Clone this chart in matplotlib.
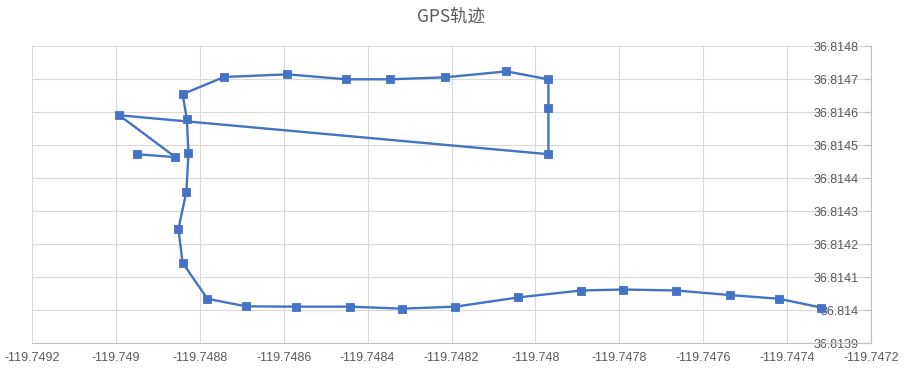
import matplotlib
matplotlib.use('Agg')
import matplotlib.pyplot as plt

# GPS track points, in drawing order
lon = [-119.748950, -119.748858, -119.748992, -119.747969, -119.747969,
       -119.747969, -119.748069, -119.748215, -119.748346, -119.748451,
       -119.748591, -119.748742, -119.748841, -119.748831, -119.748827,
       -119.748832, -119.748851, -119.748841, -119.748782, -119.748690,
       -119.748570, -119.748441, -119.748319, -119.748191, -119.748041,
       -119.747892, -119.747790, -119.747664, -119.747535, -119.747419,
       -119.747318]
lat = [36.814473, 36.814464, 36.814591, 36.814473, 36.814612,
       36.814700, 36.814724, 36.814706, 36.814700, 36.814700,
       36.814715, 36.814707, 36.814655, 36.814581, 36.814476,
       36.814359, 36.814247, 36.814144, 36.814035, 36.814012,
       36.814011, 36.814011, 36.814005, 36.814011, 36.814039,
       36.814060, 36.814063, 36.814060, 36.814046, 36.814035,
       36.814008]

xticks = [-119.7492, -119.7490, -119.7488, -119.7486, -119.7484, -119.7482,
          -119.7480, -119.7478, -119.7476, -119.7474, -119.7472]
xlabels = ['-119.7492', '-119.749', '-119.7488', '-119.7486', '-119.7484',
           '-119.7482', '-119.748', '-119.7478', '-119.7476', '-119.7474',
           '-119.7472']
yticks = [36.8139, 36.8140, 36.8141, 36.8142, 36.8143, 36.8144, 36.8145,
          36.8146, 36.8147, 36.8148]
ylabels = ['36.8139', '36.814', '36.8141', '36.8142', '36.8143', '36.8144',
           '36.8145', '36.8146', '36.8147', '36.8148']

title = 'GPS轨迹'

plt.rcParams['font.family'] = ['Liberation Sans', 'DejaVu Sans']
txt_col = '#595959'
grid_col = '#D9D9D9'
axis_col = '#BFBFBF'

fig = plt.figure(figsize=(9.05, 3.71), dpi=100)
ax = fig.add_axes([32 / 905, 27.7 / 371, 839 / 905, 297 / 371])

ax.plot(lon, lat, color='#4472C4', linewidth=1.7, marker='s',
        markersize=5.2, markeredgewidth=0.6, zorder=3)

ax.set_xlim(xticks[0], xticks[-1])
ax.set_ylim(yticks[0], yticks[-1])
ax.set_xticks(xticks)
ax.set_xticklabels(xlabels)
ax.set_yticks(yticks)
ax.set_yticklabels(ylabels)
ax.grid(True, color=grid_col, linewidth=0.8, zorder=0)
ax.set_axisbelow(True)

for s in ['left', 'top']:
    ax.spines[s].set_visible(False)
for s in ['bottom', 'right']:
    ax.spines[s].set_color(axis_col)
    ax.spines[s].set_linewidth(0.8)

ax.tick_params(axis='x', length=0, pad=6, labelsize=9, labelcolor=txt_col)
ax.tick_params(axis='y', left=False, right=True, labelleft=False,
               labelright=True, direction='in', length=5, color=axis_col,
               pad=-9, labelsize=9, labelcolor=txt_col)
for lb in ax.get_yticklabels():
    lb.set_horizontalalignment('right')

fig.text(451 / 905, 1 - 17 / 371, title, ha='center', va='center',
         fontsize=12.5, color=txt_col,
         family=['Noto Sans CJK SC', 'DejaVu Sans'])

fig.savefig('out.png', dpi=100)
